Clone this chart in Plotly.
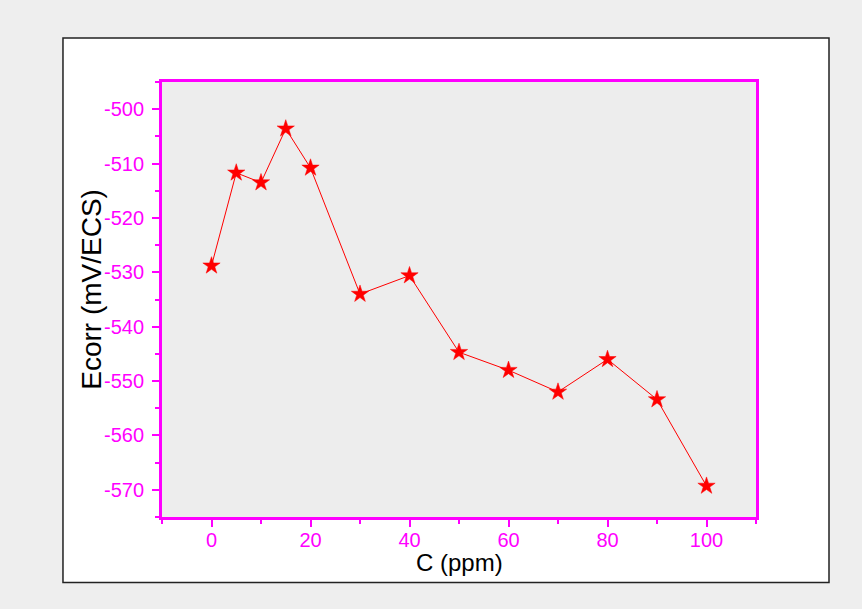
import plotly.graph_objects as go

# Corrosion potential vs inhibitor concentration
conc_ppm = [0, 5, 10, 15, 20, 30, 40, 50, 60, 70, 80, 90, 100]
ecorr_mv = [-528.8, -511.7, -513.5, -503.6, -510.8, -534.0, -530.6,
            -544.7, -548.0, -552.0, -546.0, -553.4, -569.3]

x_ticks = [0, 20, 40, 60, 80, 100]
y_ticks = [-500, -510, -520, -530, -540, -550, -560, -570]

MAGENTA = "#ff00ff"
FONT = "Liberation Sans, Arial"
TICK_FONT = dict(family=FONT, size=20, color=MAGENTA)

fig = go.Figure()
fig.add_trace(go.Scatter(
    x=conc_ppm, y=ecorr_mv,
    mode="lines+markers",
    line=dict(color="#ff0000", width=1),
    marker=dict(symbol="star", size=13, color="#ff0000",
                line=dict(color="#ff0000", width=0.5)),
    showlegend=False,
))

axis_common = dict(
    showline=True, linecolor=MAGENTA, linewidth=3, mirror=True,
    showgrid=False, zeroline=False,
    ticks="outside", ticklen=7, tickwidth=2, tickcolor=MAGENTA,
    tickfont=TICK_FONT,
)

# plain hyphen-minus labels for the negative potentials
fig.update_xaxes(
    range=[-10, 110], tickvals=x_ticks, ticktext=[str(v) for v in x_ticks],
    minor=dict(ticks="outside", ticklen=4, tickwidth=2, tickcolor=MAGENTA, dtick=10, tick0=0),
    ticklabelstandoff=-4,
    **axis_common,
)
fig.update_yaxes(
    range=[-575, -495], tickvals=y_ticks, ticktext=[str(v) for v in y_ticks],
    minor=dict(ticks="outside", ticklen=4, tickwidth=2, tickcolor=MAGENTA, dtick=5, tick0=0),
    ticklabelstandoff=4,
    **axis_common,
)

fig.update_layout(
    width=862, height=609,
    margin=dict(l=162, r=106, t=82, b=92, autoexpand=False),
    paper_bgcolor="#eeeeee",
    plot_bgcolor="#ededed",
    shapes=[
        # white frame around the graph
        dict(type="rect", xref="paper", yref="paper", layer="below",
             x0=-0.1667, x1=1.1229, y0=-0.1506, y1=1.1011,
             fillcolor="#ffffff", line=dict(color="#222222", width=1.5)),
        # plot area fill
        dict(type="rect", xref="paper", yref="paper", layer="below",
             x0=0, x1=1, y0=0, y1=1,
             fillcolor="#ededed", line=dict(width=0)),
    ],
    annotations=[
        dict(text="C (ppm)", xref="paper", yref="paper", x=0.5, y=-0.105,
             xanchor="center", yanchor="middle", showarrow=False,
             font=dict(family=FONT, size=24, color="#000000")),
        dict(text="Ecorr (mV/ECS)", xref="paper", yref="paper", x=-0.12, y=0.524,
             xanchor="center", yanchor="middle", showarrow=False, textangle=-90,
             font=dict(family=FONT, size=28, color="#000000")),
    ],
)

fig.write_html("out.html")
